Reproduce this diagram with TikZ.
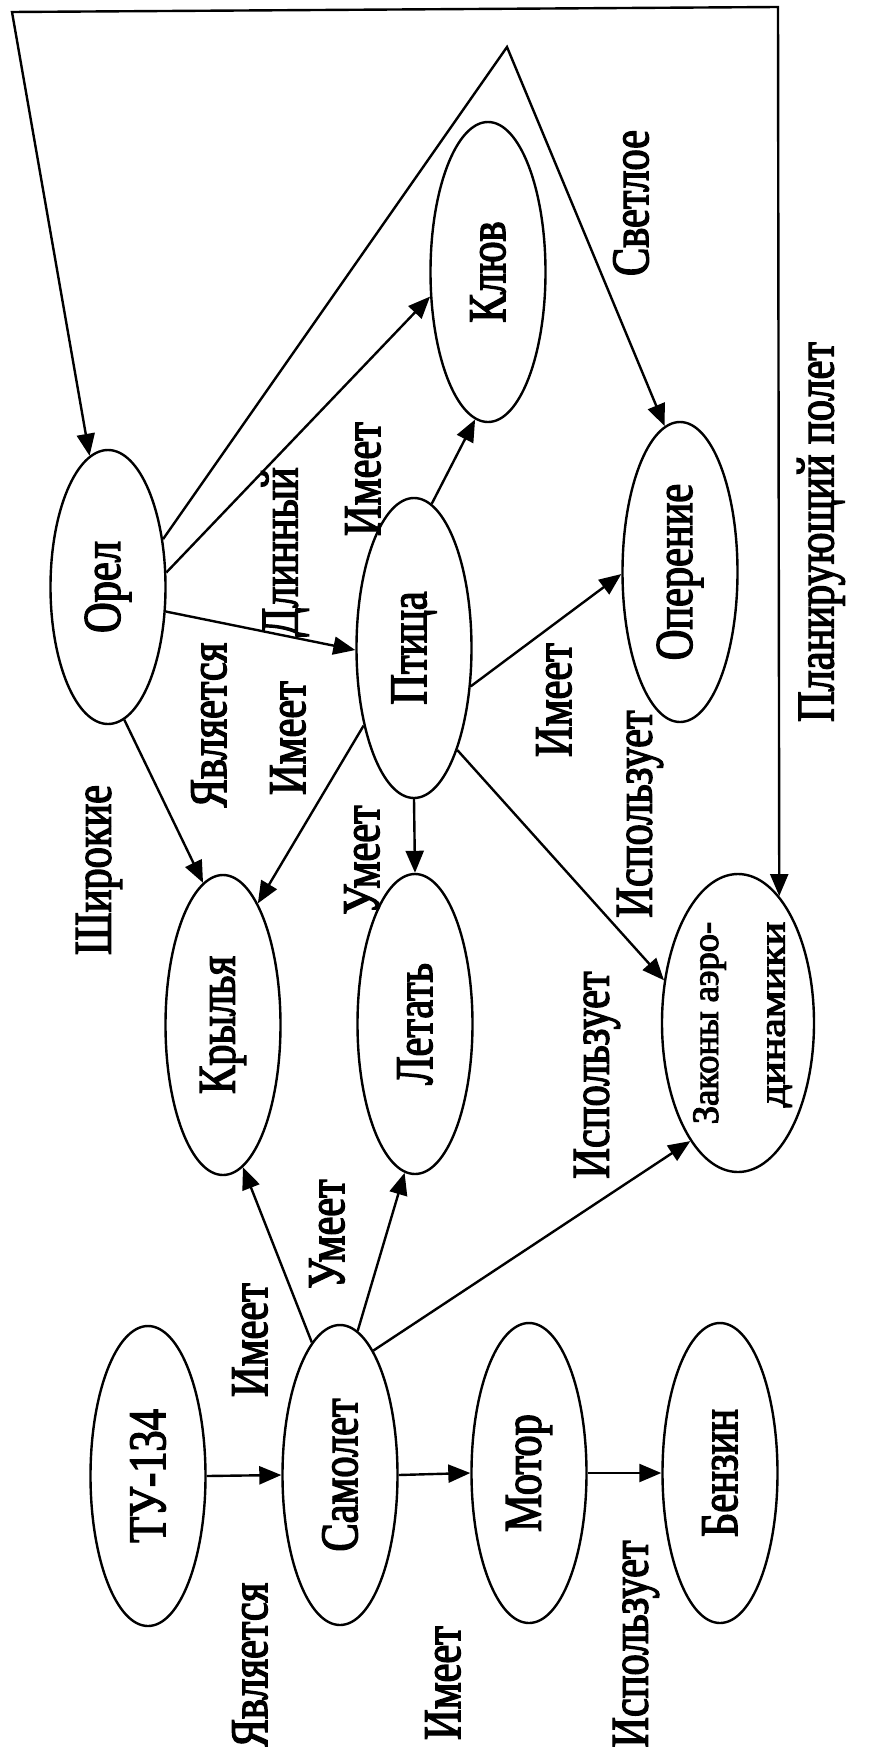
\documentclass[tikz,border=0pt]{standalone}
\usepackage{fontspec}
\usepackage{tikz}
\setmainfont{Liberation Serif}
\newfontfamily\narrowserif{Liberation Serif}[FakeStretch=0.8, FakeBold=2.5]
\usetikzlibrary{shapes.geometric,arrows.meta}
\newcommand{\rottext}[1]{\rotatebox{90}{#1}}

\begin{document}
\begin{tikzpicture}[x=1pt, y=-1pt,
	>={Triangle[length=22pt,width=18pt]},
	link/.style={->, line width=2.4pt},
	oval/.style={ellipse, draw, line width=2.4pt, inner sep=0pt,
		minimum width=115pt, minimum height=300pt,
		font=\narrowserif\fontsize{53}{60}\selectfont},
	rel/.style={rotate=90, inner sep=0pt,
		font=\narrowserif\fontsize{53}{60}\selectfont}]

	\useasboundingbox (0,0) rectangle (868,1747);

	%% Draw concepts
	\node[oval, minimum height=274pt] (orel) at (108,587) {\rottext{Орел}};
	\node[oval] (klyuv)    at (488,272)  {\rottext{Клюв}};
	\node[oval] (ptica)    at (414,648)  {\rottext{Птица}};
	\node[oval] (operenie) at (680,572)  {\rottext{Оперение}};
	\node[oval] (krylya)   at (223,1025) {\rottext{Крылья}};
	\node[oval] (letat)    at (415,1024) {\rottext{Летать}};
	\node[oval, minimum width=152pt, minimum height=298pt, inner xsep=-28pt] (zakony) at (738,1023)
		{\rottext{\fontsize{55}{98}\selectfont\scalebox{1}[0.68]{%
		\begin{tabular}{@{}r@{}}\scalebox{0.83}[1]{Законы аэро-}\\динамики\end{tabular}}}};
	\node[oval] (tu)       at (148,1476) {\rottext{ТУ-134}};
	\node[oval] (samolet)  at (340,1475) {\rottext{Самолет}};
	\node[oval] (motor)    at (529,1473) {\rottext{Мотор}};
	\node[oval] (benzin)   at (720,1473) {\rottext{Бензин}};

	\coordinate (nw)   at (12,12);
	\coordinate (ne)   at (778,7);
	\coordinate (apex) at (507,47);

	%% Draw links
	\draw[link] (tu.east) -- (samolet.west);
	\draw[link] (samolet.east) -- (motor.west);
	\draw[link] (motor.east) -- (benzin.west);
	\draw[link] (samolet.102) -- (krylya.278);
	\draw[link] (samolet.83) -- (letat.266);
	\draw[link] (samolet.75) -- (zakony.248);
	\draw[link] (orel.277) -- (krylya.98);
	\draw[link] (orel.337) -- (ptica.182);
	\draw[link] (orel.14) -- (klyuv.203);
	\draw[link] (orel.41) -- (apex) -- (operenie.96);
	\draw[link] (ptica.237) -- (krylya.74);
	\draw[link] (ptica.south) -- (letat.north);
	\draw[link] (ptica.293) -- (zakony.150);
	\draw[link] (ptica.326) -- (operenie.182);
	\draw[link] (ptica.83) -- (klyuv.265);
	\draw[link, <->] (orel.98) -- (nw) -- (ne) -- (zakony.72);

	%% Draw text on links
	\node[rel] (lsvetloe)  at (631,203)  {Светлое};
	\node[rel] (lplan)     at (821,532)  {Планирующий полет};
	\node[rel] (ldlinny)   at (285,552)  {Длинный};
	\node[rel] (limeet1)   at (363,479)  {Имеет};
	\node[rel] (lyavl1)    at (209,725)  {Является};
	\node[rel] (limeet2)   at (288,738)  {Имеет};
	\node[rel] (lshirokie) at (99,870)   {Широкие};
	\node[rel] (lumeet1)   at (362,860)  {Умеет};
	\node[rel] (limeet3)   at (554,700)  {Имеет};
	\node[rel] (lispol1)   at (640,814)  {Использует};
	\node[rel] (lispol2)   at (597,1075) {Использует};
	\node[rel] (limeet4)   at (250,1340) {Имеет};
	\node[rel] (lumeet2)   at (327,1234) {Умеет};
	\node[rel] (lyavl2)    at (250,1665) {Является};
	\node[rel] (limeet5)   at (443,1683) {Имеет};
	\node[rel] (lispol3)   at (636,1644) {Использует};
\end{tikzpicture}
\end{document}
